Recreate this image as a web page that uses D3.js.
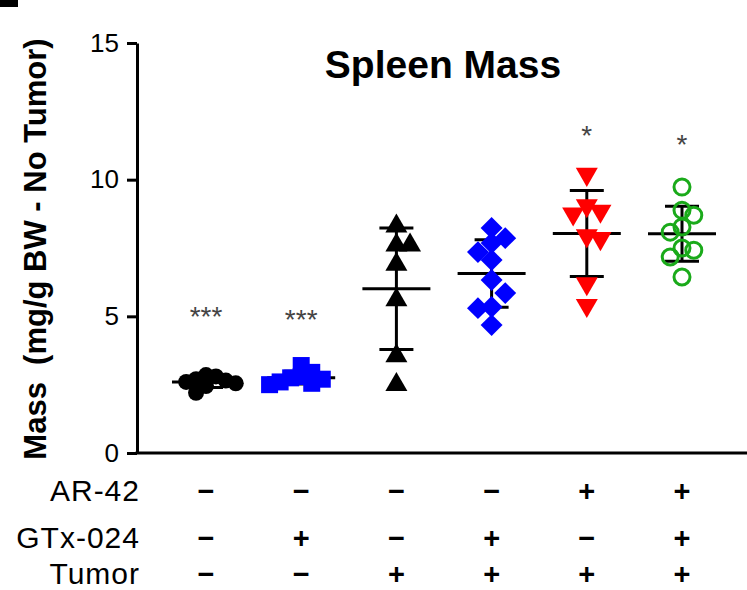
<!DOCTYPE html>
<html>
<head>
<meta charset="utf-8">
<script src="https://cdn.jsdelivr.net/npm/d3@7"></script>
<style>
  html, body { margin: 0; padding: 0; background: #fff; }
  svg { display: block; }
  text { font-family: "Liberation Sans", Arial, sans-serif; }
</style>
</head>
<body>
<svg id="chart" width="747" height="590"></svg>
<script>
// ---------------- data ----------------
const categories = ["No tumor", "GTx-024", "Tumor", "Tumor + GTx-024", "Tumor + AR-42", "Tumor + AR-42 + GTx-024"];
const rowNames = ["AR-42", "GTx-024", "Tumor"];
const ar42Row  = ["−", "−", "−", "−", "+", "+"];
const gtxRow   = ["−", "+", "−", "+", "−", "+"];
const tumorRow = ["−", "−", "+", "+", "+", "+"];

const noTumor      = [2.85, 2.8, 2.7, 2.65, 2.6, 2.55, 2.45, 2.2];
const gtxOnly      = [3.2, 2.95, 2.8, 2.75, 2.7, 2.6, 2.55, 2.5];
const tumorOnly    = [8.3, 7.6, 7.6, 6.9, 5.6, 3.55, 2.5];
const tumorGtx     = [8.23, 7.86, 7.68, 7.35, 7.06, 6.33, 5.85, 5.34, 5.3, 4.68];
const tumorAr42    = [10.2, 9.05, 8.85, 8.75, 7.95, 7.85, 6.2, 5.4];
const tumorAr42Gtx = [9.73, 8.88, 8.7, 8.27, 8.08, 7.5, 7.42, 7.17, 6.44];

const sigLabels = ["***", "***", "", "", "*", "*"];
const sigLevels = [5.2, 5.1, null, null, 11.8, 11.5];

const yTicks = [0, 5, 10, 15];
const titleText = "Spleen Mass";
const yTitle = "Mass  (mg/g BW - No Tumor)";

const seriesValues = [noTumor, gtxOnly, tumorOnly, tumorGtx, tumorAr42, tumorAr42Gtx];

// ---------------- styles ----------------
const symbolStyles = [
  { shape: d3.symbolCircle,   size: Math.PI * 64, rotate: 0,   fill: "#000000", stroke: "none",    sw: 0, width: 16 },
  { shape: d3.symbolSquare,   size: 289,          rotate: 0,   fill: "#0000ff", stroke: "none",    sw: 0, width: 17 },
  { shape: d3.symbolTriangle, size: 210,          rotate: 0,   fill: "#000000", stroke: "none",    sw: 0, width: 22 },
  { shape: d3.symbolSquare,   size: 240,          rotate: 45,  fill: "#0000ff", stroke: "none",    sw: 0, width: 22 },
  { shape: d3.symbolTriangle, size: 210,          rotate: 180, fill: "#ff0000", stroke: "none",    sw: 0, width: 22 },
  { shape: d3.symbolCircle,   size: Math.PI * 64, rotate: 0,   fill: "none",    stroke: "#1aaa1a", sw: 3, width: 19 }
];

// ---------------- layout ----------------
const W = 747, H = 590;
const axisX = 137;
const svg = d3.select("#chart");

const y = d3.scaleLinear().domain([0, 15]).range([453, 43]);
const x = d3.scalePoint().domain(categories).range([206, 682]);

// cropped panel-letter fragment at the top-left corner
svg.append("rect").attr("x", 0).attr("y", 0).attr("width", 18).attr("height", 7).attr("fill", "#000");

// title
svg.append("text").attr("x", 443).attr("y", 78).attr("text-anchor", "middle")
  .attr("font-size", 39).attr("font-weight", "bold").text(titleText);

// y axis title
svg.append("text")
  .attr("transform", "translate(46,249) rotate(-90)")
  .attr("text-anchor", "middle")
  .attr("font-size", 31).attr("font-weight", "bold")
  .style("white-space", "pre")
  .text(yTitle);

// y axis
const yAxis = svg.append("g").attr("transform", `translate(${axisX},0)`)
  .call(d3.axisLeft(y).tickValues(yTicks).tickSize(10).tickSizeOuter(0).tickPadding(8));
yAxis.select(".domain").attr("stroke", "#000").attr("stroke-width", 3);
yAxis.selectAll(".tick line").attr("stroke", "#000").attr("stroke-width", 3);
yAxis.selectAll(".tick text").attr("font-size", 26).attr("fill", "#000")
  .attr("font-family", "'Liberation Sans', Arial, sans-serif");

// x axis line
svg.append("line").attr("x1", axisX - 1.5).attr("x2", W).attr("y1", y(0)).attr("y2", y(0))
  .attr("stroke", "#000").attr("stroke-width", 3);

// ---------------- scatter spreading (column slots, alternating sides) ----------------
function swarm(values, step, Dy) {
  const pts = values.map(v => ({ v, py: y(v), dx: 0 }));
  const order = pts.slice().sort((a, b) => a.py - b.py);
  const slots = new Map();
  let rightFirst = true;
  order.forEach(p => {
    const free = k => (slots.get(k) || []).every(q => Math.abs(q - p.py) >= Dy);
    let chosen = null;
    if (free(0)) chosen = 0;
    else {
      for (let k = 1; chosen === null && k < 20; k++) {
        const tries = rightFirst ? [k, -k] : [-k, k];
        for (const t of tries) { if (free(t)) { chosen = t; break; } }
      }
      rightFirst = !rightFirst;
    }
    if (!slots.has(chosen)) slots.set(chosen, []);
    slots.get(chosen).push(p.py);
    p.dx = chosen * step;
  });
  return pts;
}

// ---------------- groups ----------------
const groups = categories.map((c, i) => {
  const vals = seriesValues[i];
  return { cat: c, vals, mean: d3.mean(vals), sd: d3.deviation(vals), style: symbolStyles[i] };
});

const gG = svg.append("g");
groups.forEach(g => {
  const cx = x(g.cat);
  const lines = gG.append("g").attr("stroke", "#000").attr("stroke-width", 3);
  lines.append("line").attr("x1", cx).attr("x2", cx)
    .attr("y1", y(g.mean + g.sd)).attr("y2", y(g.mean - g.sd));
  [g.mean + g.sd, g.mean - g.sd].forEach(v => {
    lines.append("line").attr("x1", cx - 17).attr("x2", cx + 17).attr("y1", y(v)).attr("y2", y(v));
  });
  lines.append("line").attr("x1", cx - 34).attr("x2", cx + 34).attr("y1", y(g.mean)).attr("y2", y(g.mean));
});

groups.forEach(g => {
  const cx = x(g.cat);
  const s = g.style;
  const pts = swarm(g.vals, s.width * 0.62, s.width * 0.6);
  const sym = d3.symbol().type(s.shape).size(s.size);
  gG.append("g").selectAll("path").data(pts).join("path")
    .attr("d", sym)
    .attr("transform", d => `translate(${cx + d.dx},${d.py}) rotate(${s.rotate})`)
    .attr("fill", s.fill).attr("stroke", s.stroke).attr("stroke-width", s.sw);
});

// significance markers
categories.forEach((c, i) => {
  if (!sigLabels[i]) return;
  svg.append("text").attr("x", x(c)).attr("y", y(sigLevels[i]) + 15)
    .attr("text-anchor", "middle").attr("font-size", 28).attr("fill", "#444")
    .text(sigLabels[i]);
});

// treatment table below axis
const rows = [ar42Row, gtxRow, tumorRow];
const rowY = [501, 548, 584];
rows.forEach((r, ri) => {
  svg.append("text").attr("x", 140).attr("y", rowY[ri]).attr("text-anchor", "end")
    .attr("font-size", 30).attr("letter-spacing", 1).attr("fill", "#000").text(rowNames[ri]);
  categories.forEach((c, ci) => {
    svg.append("text").attr("x", x(c)).attr("y", rowY[ri]).attr("text-anchor", "middle")
      .attr("font-size", 29).attr("font-weight", "bold").attr("fill", "#000").text(r[ci]);
  });
});
</script>
</body>
</html>
